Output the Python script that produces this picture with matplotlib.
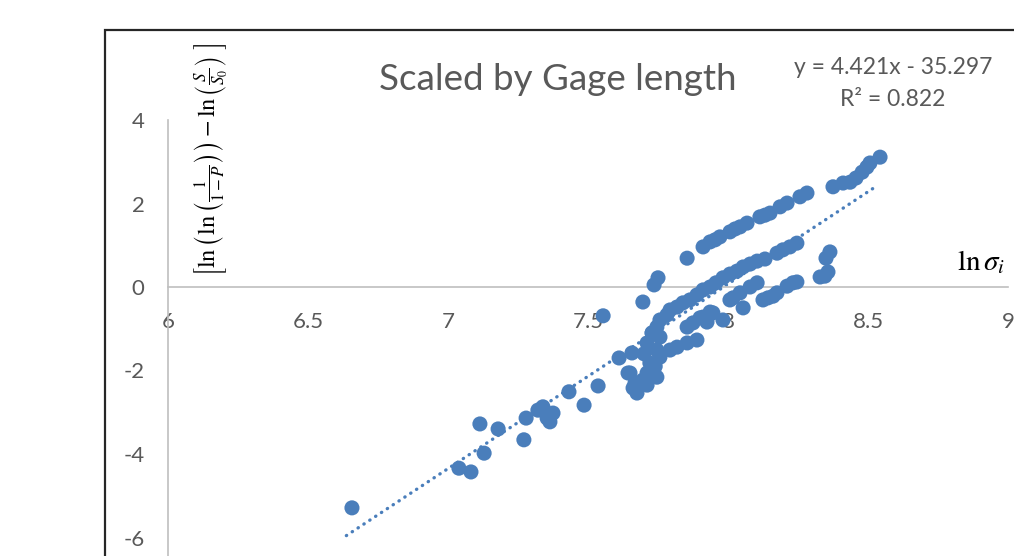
import matplotlib
matplotlib.use("Agg")
import matplotlib.pyplot as plt
from matplotlib.patches import Rectangle
import numpy as np

# ---- data (ln sigma_i, scaled Weibull ordinate) ----
x_tail = [6.657, 7.039, 7.082, 7.114, 7.129, 7.179, 7.271, 7.279, 7.321, 7.339,
          7.354, 7.375, 7.364, 7.432, 7.486, 7.536, 7.554, 7.611, 7.657, 7.643,
          7.661, 7.696, 7.675, 7.711]
y_tail = [-5.29, -4.34, -4.43, -3.28, -3.98, -3.40, -3.66, -3.14, -2.95, -2.87,
          -3.14, -3.02, -3.23, -2.51, -2.83, -2.37, -0.69, -1.70, -1.58, -2.06,
          -2.42, -2.23, -2.54, -2.35]

x_upper = [7.696, 7.736, 7.750, 7.854, 7.911, 7.936, 7.954, 7.971, 8.007, 8.025,
           8.043, 8.068, 8.114, 8.132, 8.150, 8.186, 8.211, 8.257, 8.282, 8.375,
           8.411, 8.436, 8.457, 8.479, 8.496, 8.507, 8.543]
y_upper = [-0.36, 0.05, 0.22, 0.69, 0.96, 1.08, 1.13, 1.20, 1.32, 1.39,
           1.44, 1.53, 1.68, 1.72, 1.77, 1.92, 2.01, 2.16, 2.25, 2.40,
           2.49, 2.51, 2.61, 2.75, 2.87, 2.97, 3.11]

x_middle = [7.711, 7.729, 7.746, 7.757, 7.782, 7.793, 7.818, 7.839, 7.864, 7.889,
            7.911, 7.936, 7.957, 7.982, 8.007, 8.032, 8.054, 8.079, 8.104, 8.132,
            8.175, 8.196, 8.221, 8.246]
y_middle = [-1.34, -1.10, -0.96, -0.79, -0.67, -0.55, -0.48, -0.38, -0.31, -0.19,
            -0.07, 0.00, 0.10, 0.22, 0.31, 0.38, 0.48, 0.55, 0.62, 0.67,
            0.81, 0.89, 0.96, 1.05]

x_cluster = [7.746, 7.757, 7.793, 7.818, 7.854, 7.889, 7.854, 7.875, 7.900, 7.925,
             7.946, 7.982, 7.911, 7.936, 7.721, 7.711, 7.746, 7.650, 7.668, 7.757,
             7.729, 7.740, 7.700]
y_cluster = [-1.51, -1.68, -1.51, -1.44, -1.34, -1.27, -0.96, -0.86, -0.74, -0.84,
             -0.62, -0.79, -0.72, -0.60, -1.82, -2.06, -2.16, -2.06, -2.30, -1.20,
             -1.10, -1.90, -1.60]

x_lower = [8.007, 8.018, 8.043, 8.054, 8.079, 8.104, 8.125, 8.143, 8.161, 8.175,
           8.211, 8.232, 8.246, 8.329, 8.346, 8.357, 8.350, 8.364]
y_lower = [-0.31, -0.26, -0.14, -0.50, 0.00, 0.10, -0.31, -0.26, -0.22, -0.14,
           0.02, 0.10, 0.12, 0.24, 0.26, 0.36, 0.69, 0.84]

slope, intercept, r2 = 4.421, -35.297, 0.822

x_ticks = [6, 6.5, 7, 7.5, 8, 8.5, 9]
x_tick_labels = ["6", "6.5", "7", "7.5", "8", "8.5", "9"]
y_ticks = [-6, -4, -2, 0, 2, 4]
y_tick_labels = ["-6", "-4", "-2", "0", "2", "4"]

title = "Scaled by Gage length"

# ---- figure ----
W, H = 1014, 556
fig = plt.figure(figsize=(W / 100, H / 100), dpi=100)
fig.patch.set_facecolor("white")

plt.rcParams["mathtext.fontset"] = "stix"
sans = ["Lato", "DejaVu Sans"]
gray = "#595959"
blue = "#4a7ebb"

# outer chart border (cropped on right and bottom)
fig.patches.append(Rectangle((105 / W, -0.2), 1.2, (H - 30) / H + 0.2,
                             transform=fig.transFigure, fill=False,
                             edgecolor="#262626", linewidth=1.6, zorder=0))

# axes placement: x 6..9 -> px 168..1008 ; y 4 at px 120, 41.75 px/unit
pxu = 41.75
top_px = 120
ymin, ymax = -8, 4
ax_h = (ymax - ymin) * pxu / H
ax_b = 1 - top_px / H - ax_h
ax = fig.add_axes([168 / W, ax_b, 840 / W, ax_h])
ax.set_facecolor("none")
ax.set_xlim(6, 9)
ax.set_ylim(ymin, ymax)

x_all = np.array(x_tail + x_upper + x_middle + x_cluster + x_lower)
y_all = np.array(y_tail + y_upper + y_middle + y_cluster + y_lower)
ax.scatter(x_all, y_all, s=118, color=blue, edgecolors="none", zorder=3)

xf = np.array([x_all.min() - 0.02, x_all.max() - 0.01])
ax.plot(xf, slope * xf + intercept, color=blue, lw=2.4,
        linestyle=(0, (0.1, 2.0)), dash_capstyle="round", zorder=2)

for s in ["top", "right"]:
    ax.spines[s].set_visible(False)
ax.spines["bottom"].set_position(("data", 0))
for s in ["left", "bottom"]:
    ax.spines[s].set_color("#bfbfbf")
    ax.spines[s].set_linewidth(1.2)

ax.set_xticks(x_ticks)
ax.set_xticklabels(x_tick_labels)
ax.set_yticks(y_ticks)
ax.set_yticklabels(y_tick_labels)
ax.tick_params(axis="both", length=0, labelcolor=gray, labelsize=16)
ax.tick_params(axis="x", pad=18)
ax.tick_params(axis="y", pad=17)
for lab in ax.get_xticklabels() + ax.get_yticklabels():
    lab.set_family(sans)

# title and trendline equation
fig.text(558 / W, 1 - 79 / H, title, ha="center", va="center",
         fontsize=26.5, color=gray, family=sans)
fig.text(893 / W, 1 - 68 / H, "y = 4.421x - 35.297", ha="center", va="center",
         fontsize=16.5, color=gray, family=sans)
fig.text(893 / W, 1 - 100 / H, "R² = 0.822", ha="center", va="center",
         fontsize=16.5, color=gray, family=sans)

# axis labels (inside plot area, as in original)
fig.text(211 / W, 1 - 160 / H,
         r"$\left[\ln\left(\ln\left(\frac{1}{1-P}\right)\right)-\ln\left(\frac{S}{S_0}\right)\ \right]$",
         rotation=90, ha="center", va="center", fontsize=17.5, color="black")
fig.text(957 / W, 1 - 262 / H, r"$\ln\sigma_i$", ha="left", va="center",
         fontsize=21, color="black")

fig.savefig("out.png", dpi=100)
